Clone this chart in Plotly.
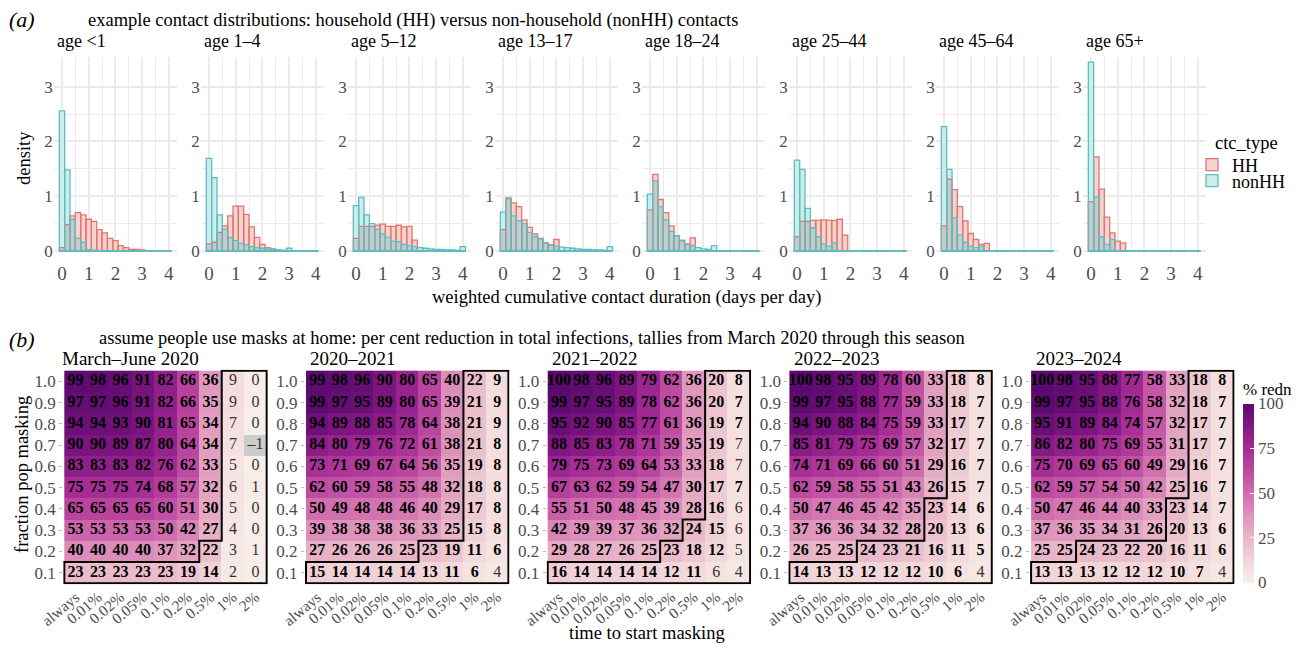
import numpy as np
import plotly.graph_objects as go

PAGE_OFF = 8                   # default body margin of the written page
FW, FH = 1301 - 2 * PAGE_OFF, 651 - 2 * PAGE_OFF
SERIF = "Liberation Serif"
TICK_COL = "#4D4D4D"

# ---------------- (a) data: density histograms ----------------
bins = [0.0, 0.2, 0.4, 0.6, 0.8, 1.0, 1.2, 1.4, 1.6, 1.8, 2.0,
        2.2, 2.4, 2.6, 2.8, 3.0, 3.2, 3.4, 3.6, 3.8, 4.0]
age_groups = ["age &lt;1", "age 1–4", "age 5–12", "age 13–17",
              "age 18–24", "age 25–44", "age 45–64", "age 65+"]

hh_lt1 = [0.06, 0.48, 0.64, 0.70, 0.66, 0.58, 0.54, 0.39, 0.33, 0.23, 0.19, 0.10, 0.06, 0.03, 0.03, 0.02, 0, 0, 0, 0, 0]
nonhh_lt1 = [2.56, 1.48, 0.58, 0.23, 0.16, 0.02, 0.01, 0, 0, 0, 0, 0, 0, 0, 0, 0, 0, 0, 0, 0, 0]
hh_1_4 = [0.13, 0.16, 0.34, 0.46, 0.64, 0.82, 0.82, 0.67, 0.44, 0.25, 0.12, 0.06, 0.04, 0.01, 0, 0, 0, 0, 0, 0, 0]
nonhh_1_4 = [1.69, 1.34, 0.66, 0.40, 0.25, 0.19, 0.14, 0.11, 0.08, 0.06, 0.05, 0.04, 0.03, 0.02, 0.01, 0.05, 0, 0, 0, 0, 0]
hh_5_12 = [0.23, 0.45, 0.45, 0.45, 0.47, 0.49, 0.45, 0.45, 0.47, 0.44, 0.45, 0.20, 0, 0, 0, 0, 0, 0, 0, 0, 0]
nonhh_5_12 = [0.83, 0.98, 0.66, 0.50, 0.40, 0.31, 0.25, 0.18, 0.17, 0.12, 0.10, 0.08, 0.06, 0.05, 0.04, 0.03, 0.03, 0.02, 0.02, 0.01, 0.08]
hh_13_17 = [0.39, 0.97, 0.88, 0.81, 0.57, 0.43, 0.31, 0.23, 0.15, 0.11, 0.21, 0, 0, 0, 0, 0, 0, 0, 0, 0, 0]
nonhh_13_17 = [0.71, 0.95, 0.64, 0.55, 0.50, 0.34, 0.26, 0.22, 0.14, 0.11, 0.09, 0.07, 0.06, 0.05, 0.04, 0.03, 0.03, 0.02, 0.02, 0.01, 0.08]
hh_18_24 = [0.75, 1.40, 0.94, 0.70, 0.46, 0.28, 0.19, 0.13, 0.24, 0, 0, 0, 0, 0, 0, 0, 0, 0, 0, 0, 0]
nonhh_18_24 = [1.04, 1.28, 0.81, 0.57, 0.36, 0.27, 0.20, 0.12, 0.10, 0.06, 0.04, 0.03, 0.10, 0, 0, 0, 0, 0, 0, 0, 0]
hh_25_44 = [0.26, 0.54, 0.54, 0.56, 0.56, 0.57, 0.56, 0.56, 0.58, 0.29, 0, 0, 0, 0, 0, 0, 0, 0, 0, 0, 0]
nonhh_25_44 = [1.66, 1.49, 0.78, 0.42, 0.26, 0.13, 0.09, 0.15, 0, 0, 0, 0, 0, 0, 0, 0, 0, 0, 0, 0, 0]
hh_45_64 = [0.46, 1.31, 1.12, 0.81, 0.55, 0.32, 0.21, 0.12, 0.14, 0, 0, 0, 0, 0, 0, 0, 0, 0, 0, 0, 0]
nonhh_45_64 = [2.27, 1.49, 0.61, 0.29, 0.16, 0.09, 0.06, 0.09, 0, 0, 0, 0, 0, 0, 0, 0, 0, 0, 0, 0, 0]
hh_65p = [0.90, 1.72, 1.13, 0.62, 0.33, 0.18, 0.15, 0, 0, 0, 0, 0, 0, 0, 0, 0, 0, 0, 0, 0, 0]
nonhh_65p = [3.45, 0.99, 0.26, 0.12, 0.21, 0, 0, 0, 0, 0, 0, 0, 0, 0, 0, 0, 0, 0, 0, 0, 0]

hh_series = [hh_lt1, hh_1_4, hh_5_12, hh_13_17, hh_18_24, hh_25_44, hh_45_64, hh_65p]
nonhh_series = [nonhh_lt1, nonhh_1_4, nonhh_5_12, nonhh_13_17, nonhh_18_24, nonhh_25_44, nonhh_45_64, nonhh_65p]

# ---------------- (b) data: % reduction heatmaps ----------------
mask_start = ["always", "0.01%", "0.02%", "0.05%", "0.1%", "0.2%", "0.5%", "1%", "2%"]
frac_masking = [1.0, 0.9, 0.8, 0.7, 0.6, 0.5, 0.4, 0.3, 0.2, 0.1]   # rows top -> bottom
seasons = ["March–June 2020", "2020–2021", "2021–2022", "2022–2023", "2023–2024"]

redn_2020 = [
    [99, 98, 96, 91, 82, 66, 36, 9, 0],
    [97, 97, 96, 91, 82, 66, 35, 9, 0],
    [94, 94, 93, 90, 81, 65, 34, 7, 0],
    [90, 90, 89, 87, 80, 64, 34, 7, -1],
    [83, 83, 83, 82, 76, 62, 33, 5, 0],
    [75, 75, 75, 74, 68, 57, 32, 6, 1],
    [65, 65, 65, 65, 60, 51, 30, 5, 0],
    [53, 53, 53, 53, 50, 42, 27, 4, 0],
    [40, 40, 40, 40, 37, 32, 22, 3, 1],
    [23, 23, 23, 23, 23, 19, 14, 2, 0]]
redn_2021 = [
    [99, 98, 96, 90, 80, 65, 40, 22, 9],
    [99, 97, 95, 89, 80, 65, 39, 21, 9],
    [94, 89, 88, 85, 78, 64, 38, 21, 9],
    [84, 80, 79, 76, 72, 61, 38, 21, 8],
    [73, 71, 69, 67, 64, 56, 35, 19, 8],
    [62, 60, 59, 58, 55, 48, 32, 18, 8],
    [50, 49, 48, 48, 46, 40, 29, 17, 8],
    [39, 38, 38, 38, 36, 33, 25, 15, 8],
    [27, 26, 26, 26, 25, 23, 19, 11, 6],
    [15, 14, 14, 14, 14, 13, 11, 6, 4]]
redn_2022 = [
    [100, 98, 96, 89, 79, 62, 36, 20, 8],
    [99, 97, 95, 89, 78, 62, 36, 20, 7],
    [95, 92, 90, 85, 77, 61, 36, 19, 7],
    [88, 85, 83, 78, 71, 59, 35, 19, 7],
    [79, 75, 73, 69, 64, 53, 33, 18, 7],
    [67, 63, 62, 59, 54, 47, 30, 17, 7],
    [55, 51, 50, 48, 45, 39, 28, 16, 6],
    [42, 39, 39, 37, 36, 32, 24, 15, 6],
    [29, 28, 27, 26, 25, 23, 18, 12, 5],
    [16, 14, 14, 14, 14, 12, 11, 6, 4]]
redn_2023 = [
    [100, 98, 95, 89, 78, 60, 33, 18, 8],
    [99, 97, 95, 88, 77, 59, 33, 18, 7],
    [94, 90, 88, 84, 75, 59, 33, 17, 7],
    [85, 81, 79, 75, 69, 57, 32, 17, 7],
    [74, 71, 69, 66, 60, 51, 29, 16, 7],
    [62, 59, 58, 55, 51, 43, 26, 15, 7],
    [50, 47, 46, 45, 42, 35, 23, 14, 6],
    [37, 36, 36, 34, 32, 28, 20, 13, 6],
    [26, 25, 25, 24, 23, 21, 16, 11, 5],
    [14, 13, 13, 12, 12, 12, 10, 6, 4]]
redn_2024 = [
    [100, 98, 95, 88, 77, 58, 33, 18, 8],
    [99, 97, 95, 88, 76, 58, 32, 18, 7],
    [95, 91, 89, 84, 74, 57, 32, 17, 7],
    [86, 82, 80, 75, 69, 55, 31, 17, 7],
    [75, 70, 69, 65, 60, 49, 29, 16, 7],
    [62, 59, 57, 54, 50, 42, 25, 16, 7],
    [50, 47, 46, 44, 40, 33, 23, 14, 7],
    [37, 36, 35, 34, 31, 26, 20, 13, 6],
    [25, 25, 24, 23, 22, 20, 16, 11, 6],
    [13, 13, 13, 12, 12, 12, 10, 7, 4]]
redn_all = [redn_2020, redn_2021, redn_2022, redn_2023, redn_2024]

# cells printed in regular (non-bold) weight: (fraction masking, start time)
plain_2020 = [(f, s) for f in frac_masking for s in ["1%", "2%"]]
plain_2021 = [(0.1, "2%")]
plain_2022 = [(0.7, "2%"), (0.6, "2%"), (0.4, "2%"), (0.3, "2%"), (0.2, "2%"), (0.1, "2%"), (0.1, "1%")]
plain_2023 = [(0.1, "2%")]
plain_2024 = [(0.1, "2%")]
plain_all = [plain_2020, plain_2021, plain_2022, plain_2023, plain_2024]

# outlined region: number of rows (from 0.1 upward) in each start-time column
region_2020 = [1, 1, 1, 1, 1, 1, 2, 10, 10]
region_2021 = [1, 1, 1, 1, 1, 2, 2, 10, 10]
region_2022 = [1, 1, 1, 1, 1, 2, 3, 10, 10]
region_2023 = [1, 1, 1, 2, 2, 2, 4, 10, 10]
region_2024 = [1, 1, 2, 2, 2, 2, 4, 10, 10]
region_all = [region_2020, region_2021, region_2022, region_2023, region_2024]

# ---------------- styling ----------------
HH_FILL = "#F6D3CF"
NON_FILL = "#CDECEC"
OVER_FILL = "#C9C9C9"
HH_LINE = "#E5746C"
NON_LINE = "#5DBDC0"
GRID = "#EBEBEB"
colorscale = [[0.0, "#F8EEE9"], [0.125, "#F1D6D8"], [0.25, "#E8B6C8"], [0.375, "#DE94BC"],
              [0.5, "#D06DAE"], [0.625, "#BD4AA1"], [0.75, "#A52D94"], [0.875, "#821783"],
              [1.0, "#5A0A6E"]]


def px_x(p):   # page pixel -> paper fraction
    return (p - PAGE_OFF) / FW


def px_y(p):
    return 1 - (p - PAGE_OFF) / FH


fig = go.Figure()
layout = dict(
    width=FW, height=FH, margin=dict(l=0, r=0, t=0, b=0, autoexpand=False),
    paper_bgcolor="white", plot_bgcolor="white", barmode="overlay",
    font=dict(family=SERIF, size=17, color="black"),
    showlegend=True,
)
annotations = []


def ann(text, x, y, size=17, xanchor="left", angle=0, color="black"):
    annotations.append(dict(text=text, x=px_x(x), y=px_y(y), xref="paper", yref="paper",
                            xanchor=xanchor, yanchor="middle", showarrow=False, textangle=angle,
                            font=dict(family=SERIF, size=size, color=color)))


# ---------------- (a) histograms ----------------
XU = 26.7          # px per unit x
Y0, YU = 251.0, 54.77
YR = [-0.04, 3.55]
for i in range(8):
    k = i + 1
    xa = "x" if k == 1 else f"x{k}"
    ya = "y" if k == 1 else f"y{k}"
    zero = 62 + 147 * i
    xd = [px_x(zero - 0.31 * XU), px_x(zero + 4.31 * XU)]
    yd = [px_y(Y0 - YR[0] * YU), px_y(Y0 - YR[1] * YU)]
    layout["xaxis" + ("" if k == 1 else str(k))] = dict(
        domain=xd, range=[-0.31, 4.31], anchor=ya, tickvals=[0, 1, 2, 3, 4],
        showgrid=True, gridcolor=GRID, gridwidth=1.5, zeroline=False, showline=False,
        minor=dict(tickvals=[0.5, 1.5, 2.5, 3.5], showgrid=True, gridcolor=GRID, gridwidth=0.8),
        tickfont=dict(family=SERIF, size=19, color=TICK_COL), ticklabelstandoff=7)
    layout["yaxis" + ("" if k == 1 else str(k))] = dict(
        domain=sorted(yd), range=YR, anchor=xa, tickvals=[0, 1, 2, 3],
        showgrid=True, gridcolor=GRID, gridwidth=1.5, zeroline=False, showline=False,
        minor=dict(tickvals=[0.5, 1.5, 2.5], showgrid=True, gridcolor=GRID, gridwidth=0.8),
        tickfont=dict(family=SERIF, size=17, color=TICK_COL))
    hh = np.array(hh_series[i], dtype=float)
    nh = np.array(nonhh_series[i], dtype=float)
    ov = np.minimum(hh, nh)
    common = dict(x=bins, width=0.2, xaxis=xa, yaxis=ya, showlegend=False, hoverinfo="skip")
    fig.add_trace(go.Bar(y=hh, marker=dict(color=HH_FILL, line=dict(width=0)), **common))
    fig.add_trace(go.Bar(y=nh, marker=dict(color=NON_FILL, line=dict(width=0)), **common))
    fig.add_trace(go.Bar(y=ov, marker=dict(color=OVER_FILL, line=dict(width=0)), **common))
    fig.add_trace(go.Bar(y=hh, marker=dict(color="rgba(0,0,0,0)", line=dict(width=1.3, color=HH_LINE)), **common))
    fig.add_trace(go.Bar(y=nh, marker=dict(color="rgba(0,0,0,0)", line=dict(width=1.3, color=NON_LINE)), **common))
    # zero-height bins still show their outline along the baseline
    fig.add_trace(go.Scatter(x=[bins[0] - 0.1, bins[-1] + 0.1], y=[0, 0], mode="lines",
                             xaxis=xa, yaxis=ya, showlegend=False, hoverinfo="skip",
                             line=dict(color=NON_LINE, width=1.3)))
    ann(age_groups[i], zero - 0.31 * XU + 1, 41, size=18)

# legend entries (one legend box per entry so their spacing can match)
fig.add_trace(go.Bar(x=[None], y=[None], name="HH", xaxis="x8", yaxis="y8", legend="legend",
                     marker=dict(color=HH_FILL, line=dict(width=1.3, color=HH_LINE))))
fig.add_trace(go.Bar(x=[None], y=[None], name="nonHH", xaxis="x8", yaxis="y8", legend="legend2",
                     marker=dict(color=NON_FILL, line=dict(width=1.3, color=NON_LINE))))
for name, yc in (("legend", 165), ("legend2", 181)):
    layout[name] = dict(x=px_x(1192), y=px_y(yc), xanchor="left", yanchor="middle",
                        font=dict(family=SERIF, size=18), bgcolor="rgba(0,0,0,0)",
                        itemwidth=30, tracegroupgap=0)

ann("<i>(a)</i>", 7, 19, size=22)
ann("example contact distributions: household (HH) versus non-household (nonHH) contacts", 86, 20, size=18.5)
ann("density", 24, 158, size=18.5, xanchor="center", angle=-90)
ann("weighted cumulative contact duration (days per day)", 626, 297, size=18.5, xanchor="center")
ann("ctc_type", 1213, 143, size=18.5)

# ---------------- (b) heatmaps ----------------
rows_bottom_up = frac_masking[::-1]
col_idx = list(range(len(mask_start)))
CW = 22.49   # px per column
RH = 21.26   # px per row
pad = 0.05   # fraction of a cell added around each heatmap so its outline is not clipped


def region_outline(heights):
    ncol = len(heights)
    nrow = len(rows_bottom_up)

    def inside(c, r):
        return 0 <= c < ncol and 0 <= r < nrow and r < heights[c]
    edges = set()
    for c in range(ncol):
        for r in range(heights[c]):
            if not inside(c - 1, r):
                edges.add(((c, r), (c, r + 1)))
            if not inside(c + 1, r):
                edges.add(((c + 1, r), (c + 1, r + 1)))
            if not inside(c, r - 1):
                edges.add(((c, r), (c + 1, r)))
            if not inside(c, r + 1):
                edges.add(((c, r + 1), (c + 1, r + 1)))
    adj = {}
    for a, b in edges:
        adj.setdefault(a, []).append(b)
        adj.setdefault(b, []).append(a)
    start = min(adj)
    path = [start]
    prev, cur = None, start
    while True:
        nxt = [n for n in adj[cur] if n != prev][0]
        if nxt == start:
            break
        path.append(nxt)
        prev, cur = cur, nxt
    path += [start, path[1]]
    xs = [p[0] - 0.5 for p in path]
    ys = [0.05 + 0.1 * p[1] for p in path]
    return xs, ys


title_x = [60, 308, 550, 792, 1034]
for j in range(5):
    k = 9 + j
    xa, ya = f"x{k}", f"y{k}"
    left = 64.3 + 241.7 * j
    xd = [px_x(left - pad * CW), px_x(left + 9 * CW + pad * CW)]
    yd = [px_y(583.3 + pad * RH), px_y(370.7 - pad * RH)]
    layout[f"xaxis{k}"] = dict(
        domain=xd, range=[-0.5 - pad, 8.5 + pad], anchor=ya, tickvals=col_idx, ticktext=mask_start,
        tickangle=-40, showgrid=False, zeroline=False, showline=False,
        tickfont=dict(family=SERIF, size=15.5, color=TICK_COL))
    layout[f"yaxis{k}"] = dict(
        domain=yd, range=[0.05 - pad * 0.1, 1.05 + pad * 0.1], anchor=xa,
        tickvals=rows_bottom_up, ticktext=[f"{v:.1f}" for v in rows_bottom_up],
        showgrid=False, zeroline=False, showline=False, ticks="outside", ticklen=3,
        tickcolor="#BBBBBB", tickfont=dict(family=SERIF, size=17, color=TICK_COL))

    Z = np.array(redn_all[j][::-1], dtype=float)   # bottom -> top
    fig.add_trace(go.Heatmap(
        z=Z, x=col_idx, y=rows_bottom_up, xaxis=xa, yaxis=ya, zmin=0, zmax=100,
        colorscale=colorscale, showscale=(j == 4), hoverinfo="skip",
        colorbar=dict(x=px_x(1243), xanchor="left", y=px_y(481), yanchor="middle",
                      len=203, lenmode="pixels", thickness=11, thicknessmode="pixels",
                      outlinewidth=0, tickvals=[0, 25, 50, 75, 100], ticks="inside",
                      ticklen=4, tickcolor="white", xpad=0, ypad=0,
                      tickfont=dict(family=SERIF, size=17, color=TICK_COL),
                      title=dict(text="% redn", side="top", font=dict(family=SERIF, size=17)))))
    Zna = np.where(Z < 0, 0.0, np.nan)
    if np.isfinite(Zna).any():
        fig.add_trace(go.Heatmap(z=Zna, x=col_idx, y=rows_bottom_up, xaxis=xa, yaxis=ya,
                                 colorscale=[[0, "#CCCCCC"], [1, "#CCCCCC"]], showscale=False,
                                 hoverinfo="skip"))

    plain = set(plain_all[j])
    bx, by, bt, nx, ny, nt = [], [], [], [], [], []
    for ri, f in enumerate(frac_masking):
        for ci, s in enumerate(mask_start):
            v = redn_all[j][ri][ci]
            t = str(v) if v >= 0 else "–" + str(-v)
            if (f, s) in plain:
                nx.append(ci); ny.append(f); nt.append(t)
            else:
                bx.append(ci); by.append(f); bt.append(t)
    fig.add_trace(go.Scatter(x=bx, y=by, text=bt, mode="text", xaxis=xa, yaxis=ya,
                             showlegend=False, hoverinfo="skip",
                             textfont=dict(family=SERIF, size=16, color="black", weight="bold")))
    fig.add_trace(go.Scatter(x=nx, y=ny, text=nt, mode="text", xaxis=xa, yaxis=ya,
                             showlegend=False, hoverinfo="skip",
                             textfont=dict(family=SERIF, size=16, color="#333333")))
    ox, oy = region_outline(region_all[j])
    fig.add_trace(go.Scatter(x=ox, y=oy, mode="lines", xaxis=xa, yaxis=ya, showlegend=False,
                             hoverinfo="skip", line=dict(color="black", width=2)))
    ann(seasons[j], title_x[j], 359, size=19)

ann("<i>(b)</i>", 7, 339, size=22)
ann("assume people use masks at home: per cent reduction in total infections, tallies from March 2020 through this season",
    97, 338, size=18.5)
ann("fraction pop masking", 22, 475, size=18.5, xanchor="center", angle=-90)
ann("time to start masking", 647, 633, size=18.5, xanchor="center")

layout["annotations"] = annotations
fig.update_layout(**layout)
fig.write_html("out.html")
